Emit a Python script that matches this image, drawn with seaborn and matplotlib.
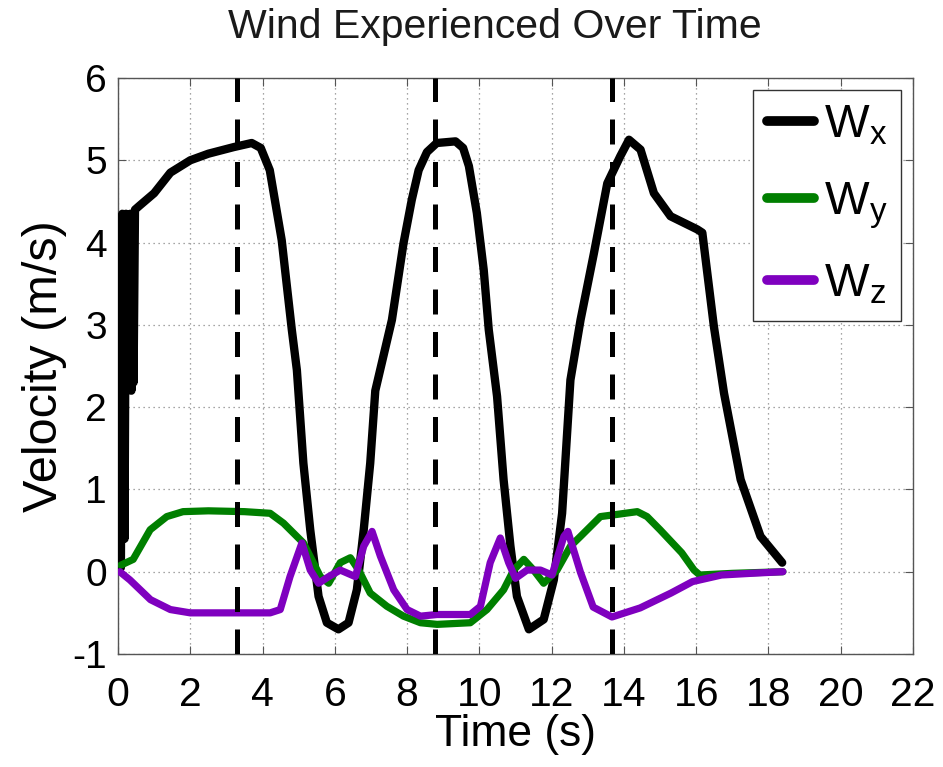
import matplotlib
matplotlib.use("Agg")
import matplotlib.pyplot as plt
from matplotlib import font_manager
import seaborn as sns
import pandas as pd

# ---- data ----
t_wx = [0.08, 0.12, 0.18, 0.22, 0.25, 0.28, 0.31, 0.34, 0.37, 0.40, 0.43, 0.47, 0.6, 1.0, 1.45,
        2.0, 2.5, 3.2, 3.7, 3.95, 4.2, 4.53, 4.81, 4.95, 5.13, 5.32, 5.55, 5.78, 6.1, 6.38,
        6.61, 6.8, 6.98, 7.12, 7.58, 7.9, 8.13, 8.32, 8.55, 8.82, 9.34, 9.55, 9.71, 9.93,
        10.12, 10.26, 10.49, 10.67, 10.86, 11.04, 11.37, 11.78, 12.06, 12.29, 12.52, 12.8,
        13.17, 13.54, 13.9, 14.14, 14.46, 14.83, 15.29, 16.03, 16.17, 16.49, 16.77, 17.23,
        17.78, 18.38]
wx = [0.05, 4.35, 0.4, 4.35, 2.2, 4.3, 2.25, 4.35, 2.2, 4.3, 2.3, 4.4, 4.45, 4.6, 4.85,
      5.0, 5.08, 5.16, 5.21, 5.15, 4.88, 4.03, 2.94, 2.45, 1.32, 0.51, -0.30, -0.62, -0.70, -0.62,
      -0.22, 0.51, 1.32, 2.2, 3.06, 3.99, 4.52, 4.88, 5.1, 5.21, 5.23, 5.15, 4.93, 4.36,
      3.67, 2.94, 2.13, 1.12, 0.31, -0.30, -0.70, -0.58, -0.10, 0.71, 2.33, 3.06,
      3.87, 4.72, 5.05, 5.25, 5.13, 4.6, 4.32, 4.16, 4.12, 2.98, 2.17, 1.12,
      0.43, 0.11]

t_wy = [0.08, 0.42, 0.89, 1.35, 1.8, 2.5, 3.5, 4.21, 4.58, 5.13, 5.6, 5.83, 6.15, 6.43, 6.66,
        6.98, 7.44, 7.9, 8.37, 8.83, 9.75, 10.21, 10.67, 10.95, 11.23, 11.5, 11.78, 12.15,
        12.52, 12.8, 13.35, 13.7, 14.37, 14.64, 15.0, 15.6, 15.94, 16.1, 17.0, 18.4]
wy = [0.08, 0.15, 0.51, 0.67, 0.73, 0.74, 0.73, 0.71, 0.59, 0.35, -0.06, -0.14, 0.11, 0.17, 0.02,
      -0.26, -0.42, -0.54, -0.62, -0.64, -0.62, -0.46, -0.22, 0.02, 0.15, 0.02, -0.14, 0.02,
      0.31, 0.43, 0.67, 0.69, 0.73, 0.67, 0.51, 0.23, 0.02, -0.04, -0.02, 0.0]

t_wz = [0.05, 0.33, 0.9, 1.45, 2.0, 4.21, 4.49, 4.76, 5.09, 5.32, 5.55, 5.83, 6.15, 6.57, 6.8,
        7.03, 7.26, 7.63, 8.0, 8.37, 8.83, 9.75, 10.03, 10.3, 10.58, 10.81, 11.0, 11.32, 11.69,
        12.01, 12.34, 12.45, 12.8, 13.15, 13.67, 14.45, 15.3, 15.9, 16.7, 17.5, 18.4]
wz = [0.0, -0.1, -0.34, -0.46, -0.5, -0.5, -0.46, -0.06, 0.35, 0.02, -0.14, -0.06, 0.02, -0.06, 0.31,
      0.49, 0.19, -0.22, -0.46, -0.54, -0.52, -0.52, -0.42, 0.11, 0.41, 0.11, -0.08, 0.02, 0.02,
      -0.04, 0.43, 0.49, -0.01, -0.43, -0.55, -0.44, -0.26, -0.12, -0.04, -0.02, 0.0]

event_times = [3.28, 8.76, 13.67]
x_ticks = [0, 2, 4, 6, 8, 10, 12, 14, 16, 18, 20, 22]
y_ticks = [-1, 0, 1, 2, 3, 4, 5, 6]
labels = [r"W$_{\mathregular{x}}$", r"W$_{\mathregular{y}}$", r"W$_{\mathregular{z}}$"]
colors = ["#000000", "#007f00", "#7f00bf"]

# ---- style ----
sns.set_theme(style="white")
plt.rcParams["font.family"] = ["Liberation Sans", "DejaVu Sans"]
plt.rcParams["mathtext.fontset"] = "custom"
plt.rcParams["mathtext.rm"] = "Liberation Sans"
plt.rcParams["mathtext.it"] = "Liberation Sans"
plt.rcParams["axes.unicode_minus"] = False
plt.rcParams["text.color"] = "black"
plt.rcParams["axes.labelcolor"] = "black"
plt.rcParams["xtick.color"] = "black"
plt.rcParams["ytick.color"] = "black"

available = {f.name for f in font_manager.fontManager.ttflist}
narrow = "Liberation Sans Narrow" if "Liberation Sans Narrow" in available else "Liberation Sans"
narrow_scale = 1.0 if narrow == "Liberation Sans Narrow" else 0.82

fig = plt.figure(figsize=(9.43, 7.67), dpi=100)
ax = fig.add_axes([118 / 943, 1 - 654 / 767, 795 / 943, 576 / 767])

df_x = pd.DataFrame({"t": t_wx, "v": wx})
df_y = pd.DataFrame({"t": t_wy, "v": wy})
df_z = pd.DataFrame({"t": t_wz, "v": wz})

sns.lineplot(data=df_x, x="t", y="v", ax=ax, color=colors[0], lw=6.0, sort=False,
             estimator=None, label=labels[0], zorder=3)
sns.lineplot(data=df_y, x="t", y="v", ax=ax, color=colors[1], lw=5.2, sort=False,
             estimator=None, label=labels[1], zorder=3)
sns.lineplot(data=df_z, x="t", y="v", ax=ax, color=colors[2], lw=5.2, sort=False,
             estimator=None, label=labels[2], zorder=4)

for et in event_times:
    ax.axvline(et, color="black", lw=3.6, ls=(0, (5, 3.5)), zorder=5)

ax.set_xlim(0, 22)
ax.set_ylim(-1, 6)
ax.set_xticks(x_ticks)
ax.set_yticks(y_ticks)
ax.grid(True, color="#888888", ls=(0, (1, 3)), lw=0.9)
for s in ax.spines.values():
    s.set_color("#555555")
    s.set_linewidth(1.0)
ax.tick_params(axis="both", direction="in", length=6, width=0.8, color="#555555",
               top=True, right=True, bottom=True, left=True)
ax.tick_params(axis="x", pad=16)
ax.tick_params(axis="y", labelsize=28, pad=8)
for lab in ax.get_xticklabels():
    lab.set_fontfamily(narrow)
    lab.set_fontsize(36 * narrow_scale)

ax.set_xlabel("Time (s)", fontsize=39 * narrow_scale, family=narrow, labelpad=0)
ax.set_ylabel("Velocity (m/s)", fontsize=35, labelpad=4)
fig.suptitle("Wind Experienced Over Time", fontsize=29.5, color="#1a1a1a", x=0.525, y=0.99)

leg = ax.legend(loc="upper right", fontsize=34, frameon=True, fancybox=False,
                edgecolor="#333333", framealpha=1, handlelength=1.0, handletextpad=0.2,
                labelspacing=0.68, borderpad=0.3, borderaxespad=0.25)
leg.get_frame().set_linewidth(1.0)
for line in leg.get_lines():
    line.set_linewidth(7)

fig.savefig("out.png", dpi=100)
